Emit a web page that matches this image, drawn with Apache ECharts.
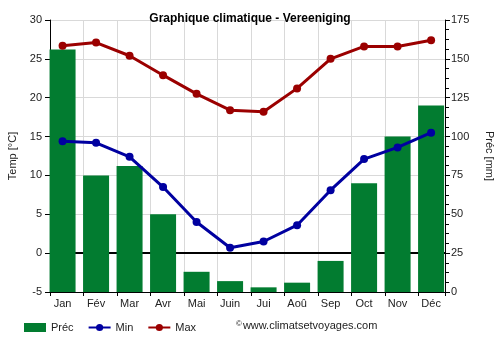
<!DOCTYPE html>
<html>
<head>
<meta charset="utf-8">
<script src="https://cdn.jsdelivr.net/npm/echarts@6/dist/echarts.min.js"></script>
<style>
  html, body { margin: 0; padding: 0; background: #fff; }
  #chart { width: 500px; height: 350px; }
</style>
</head>
<body>
<div id="chart"></div>
<script>
// Monthly climate data for Vereeniging
const months = ['Jan', 'Fév', 'Mar', 'Avr', 'Mai', 'Juin', 'Jui', 'Aoû', 'Sep', 'Oct', 'Nov', 'Déc'];
const precip = [156, 75, 81, 50, 13, 7, 3, 6, 20, 70, 100, 120];
const tempMin = [14.4, 14.2, 12.4, 8.5, 4.0, 0.7, 1.5, 3.6, 8.1, 12.1, 13.6, 15.5];
const tempMax = [26.7, 27.1, 25.4, 22.9, 20.5, 18.4, 18.2, 21.2, 25.0, 26.6, 26.6, 27.4];
const tempTicks = { min: -5, max: 30, step: 5 };
const precipTicks = { min: 0, max: 175, step: 25 };

// Each month occupies one slot; the mark sits left of the slot centre,
// and the plot stops a little before the end of the last slot.
const SLOT_OFFSET = 0.375;   // month centre measured from its slot start
const SLOT_END = 11.79;      // right edge of the plot in slot units

const FONT = 'Liberation Sans, Arial, sans-serif';
const TXT = '#222';
const GRID = '#d9d9d9';

const idx = months.map((_, i) => i);
const pairs = arr => arr.map((v, i) => [i, v]);

const chart = echarts.init(document.getElementById('chart'), null, { renderer: 'canvas' });

chart.setOption({
  animation: false,
  textStyle: { fontFamily: FONT },
  title: {
    text: 'Graphique climatique - Vereeniging',
    left: 'center',
    top: 8,
    textStyle: { fontSize: 12, fontWeight: 'bold', color: '#000', fontFamily: FONT }
  },
  grid: { left: 50, right: 55, top: 20, bottom: 58, containLabel: false, outerBoundsMode: 'none' },
  xAxis: [
    {
      // slot axis: frame, tick marks and vertical grid lines
      type: 'value',
      position: 'bottom',
      min: 0,
      max: SLOT_END,
      interval: 1,
      axisLine: { show: true, onZero: false, lineStyle: { color: '#000', width: 1 } },
      axisTick: { show: true, length: 4, lineStyle: { color: '#000' } },
      axisLabel: { show: false },
      splitLine: { show: true, lineStyle: { color: GRID, width: 1 } }
    },
    {
      // month axis: carries the data and the month names
      type: 'value',
      position: 'bottom',
      min: -SLOT_OFFSET,
      max: SLOT_END - SLOT_OFFSET,
      axisLine: { show: false, onZero: false },
      axisTick: { show: false },
      splitLine: { show: false },
      axisLabel: {
        show: true,
        customValues: idx,
        margin: 6,
        fontSize: 11,
        color: TXT,
        fontFamily: FONT,
        formatter: v => months[Math.round(v)] || ''
      }
    }
  ],
  yAxis: [
    {
      type: 'value',
      min: tempTicks.min,
      max: tempTicks.max,
      interval: tempTicks.step,
      name: 'Temp [°C]',
      nameLocation: 'middle',
      nameRotate: 90,
      nameGap: 32,
      nameTextStyle: { fontSize: 11, color: TXT, fontFamily: FONT },
      axisLine: { show: true, onZero: false, lineStyle: { color: '#000' } },
      axisTick: { show: true, length: 5, lineStyle: { color: '#000' } },
      axisLabel: { fontSize: 11, color: TXT, margin: 8, fontFamily: FONT },
      splitLine: { show: true, lineStyle: { color: GRID, width: 1 } }
    },
    {
      type: 'value',
      position: 'right',
      min: precipTicks.min,
      max: precipTicks.max,
      interval: precipTicks.step,
      name: 'Préc [mm]',
      nameLocation: 'middle',
      nameRotate: -90,
      nameGap: 39,
      nameTextStyle: { fontSize: 11, color: TXT, fontFamily: FONT },
      axisLine: { show: true, onZero: false, lineStyle: { color: '#000' } },
      axisTick: { show: true, length: 5, lineStyle: { color: '#000' } },
      minorTick: { show: true, splitNumber: 4, length: 4, lineStyle: { color: '#000' } },
      axisLabel: { fontSize: 11, color: TXT, margin: 6, fontFamily: FONT },
      splitLine: { show: false }
    }
  ],
  legend: {
    left: 19,
    top: 317,
    itemWidth: 22,
    itemHeight: 9,
    itemGap: 14,
    textStyle: { fontSize: 11, color: TXT, fontFamily: FONT },
    data: [
      { name: 'Préc', icon: 'rect' },
      { name: 'Min' },
      { name: 'Max' }
    ]
  },
  graphic: [
    {
      type: 'text',
      left: 236,
      top: 320,
      style: {
        text: '{c|©}www.climatsetvoyages.com',
        fontSize: 11,
        fontFamily: FONT,
        fill: TXT,
        rich: { c: { fontSize: 8, fill: TXT, fontFamily: FONT, verticalAlign: 'top', padding: [0, 1, 4, 0] } }
      }
    }
  ],
  series: [
    {
      name: 'Préc',
      type: 'bar',
      xAxisIndex: 1,
      yAxisIndex: 1,
      barWidth: 26,
      z: 2,
      itemStyle: { color: '#027c30' },
      data: pairs(precip)
    },
    {
      name: 'Min',
      type: 'line',
      xAxisIndex: 1,
      yAxisIndex: 0,
      z: 3,
      symbol: 'circle',
      symbolSize: 8,
      lineStyle: { color: '#0000a0', width: 3 },
      itemStyle: { color: '#0000a0' },
      data: pairs(tempMin),
      markLine: {
        z: 1,
        silent: true,
        symbol: ['none', 'none'],
        label: { show: false },
        lineStyle: { color: '#000', width: 2, type: 'solid' },
        data: [{ yAxis: 0 }]
      }
    },
    {
      name: 'Max',
      type: 'line',
      xAxisIndex: 1,
      yAxisIndex: 0,
      z: 3,
      symbol: 'circle',
      symbolSize: 8,
      lineStyle: { color: '#9b0000', width: 3 },
      itemStyle: { color: '#9b0000' },
      data: pairs(tempMax)
    }
  ]
});
</script>
</body>
</html>
